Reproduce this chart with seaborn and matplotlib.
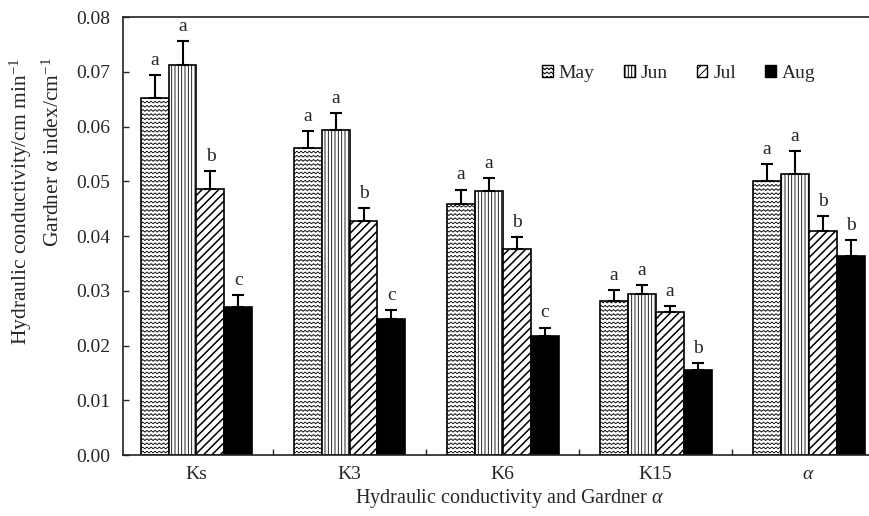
import warnings
import numpy as np
import pandas as pd
import seaborn as sns
import matplotlib
import matplotlib.pyplot as plt
from matplotlib import hatch as mhatch
from matplotlib.patches import Patch

warnings.filterwarnings("ignore")

# data
params = ["Ks", "K3", "K6", "K15", "alpha"]
tick_labels = ["Ks", "K3", "K6", "K15", r"$\alpha$"]
months = ["May", "Jun", "Jul", "Aug"]
may = [0.0653, 0.0560, 0.0459, 0.0281, 0.0501]
jun = [0.0712, 0.0593, 0.0483, 0.0295, 0.0514]
jul = [0.0486, 0.0428, 0.0377, 0.0261, 0.0409]
aug = [0.0270, 0.0248, 0.0218, 0.0156, 0.0364]
may_err = [0.0041, 0.0031, 0.0026, 0.0020, 0.0031]
jun_err = [0.0045, 0.0032, 0.0023, 0.0015, 0.0041]
jul_err = [0.0033, 0.0023, 0.0022, 0.0011, 0.0027]
aug_err = [0.0022, 0.0017, 0.0015, 0.0012, 0.0029]
may_sig = ["a", "a", "a", "a", "a"]
jun_sig = ["a", "a", "a", "a", "a"]
jul_sig = ["b", "b", "b", "a", "b"]
aug_sig = ["c", "c", "c", "b", "b"]


# wavy hatch ("~") - matplotlib has none, so add one
class WaveHatch(mhatch.HatchPatternBase):
    def __init__(self, hatch, density):
        self.num_lines = int(hatch.count("~") * density)
        self.pts = 6 * self.num_lines + 1
        self.num_vertices = self.num_lines * self.pts

    def set_vertices_and_codes(self, vertices, codes):
        n = self.num_lines
        x = np.linspace(0, 1, self.pts)
        wave = 0.22 / n * np.sin(2 * np.pi * n * x)
        for i in range(n):
            s = slice(i * self.pts, (i + 1) * self.pts)
            vertices[s, 0] = x
            vertices[s, 1] = (i + 0.5) / n + wave
            codes[s] = matplotlib.path.Path.LINETO
            codes[i * self.pts] = matplotlib.path.Path.MOVETO


mhatch._hatch_types.append(WaveHatch)

hatches = {"May": "~~~~", "Jun": "|||||", "Jul": "////", "Aug": None}
hatch_lw = {"May": 0.5, "Jun": 0.6, "Jul": 1.1, "Aug": 0.6}
faces = {"May": "white", "Jun": "white", "Jul": "white", "Aug": "black"}

df = pd.DataFrame({
    "param": params * 4,
    "month": np.repeat(months, len(params)),
    "value": may + jun + jul + aug,
    "err": may_err + jun_err + jul_err + aug_err,
    "sig": may_sig + jun_sig + jul_sig + aug_sig,
})

sns.set_style("ticks")
plt.rcParams["font.family"] = ["Liberation Serif", "DejaVu Serif"]
plt.rcParams["mathtext.fontset"] = "custom"
plt.rcParams["mathtext.rm"] = "Liberation Serif"
plt.rcParams["mathtext.it"] = "Liberation Serif:italic"
plt.rcParams["hatch.linewidth"] = 0.7


def style_hatch(p, month):
    p.set_facecolor(faces[month])
    if hatches[month]:
        p.set_hatch(hatches[month])
    if hasattr(p, "set_hatch_linewidth"):
        p.set_hatch_linewidth(hatch_lw[month])


fig = plt.figure(figsize=(8.7, 5.16), dpi=100)
ax = fig.add_axes([0.1414, 0.118, 0.8586, 0.849])

sns.barplot(
    data=df, x="param", y="value", hue="month", order=params,
    hue_order=months, palette=["white"] * 4, edgecolor="black",
    linewidth=1.2, width=0.73, errorbar=None, legend=False, ax=ax,
)

for month, cont in zip(months, ax.containers):
    sub = df[df["month"] == month].set_index("param").loc[params]
    for bar, (_, row) in zip(cont.patches, sub.iterrows()):
        style_hatch(bar, month)
        xc = bar.get_x() + bar.get_width() / 2
        top = row["value"] + row["err"]
        ax.errorbar(xc, row["value"], yerr=[[0], [row["err"]]], fmt="none",
                    ecolor="black", elinewidth=1.5, capsize=4, capthick=1.5,
                    zorder=1)
        ax.text(xc, top + 0.0011, row["sig"], ha="center", va="bottom",
                fontsize=14)

ax.set_ylim(0, 0.08)
ax.set_xlim(-0.48, 4.40)
ax.set_yticks(np.arange(0, 0.081, 0.01))
ax.yaxis.set_major_formatter(matplotlib.ticker.FormatStrFormatter("%.2f"))
ax.set_xticks(range(len(params)))
ax.set_xticklabels(tick_labels)
ax.set_xticks(np.arange(0.5, 4, 1), minor=True)
ax.tick_params(axis="x", which="major", length=0, pad=8, labelsize=14)
ax.tick_params(axis="x", which="minor", direction="in", length=4, width=1)
ax.tick_params(axis="y", direction="in", length=4, width=1, labelsize=14, pad=9)
ax.spines["right"].set_visible(False)
for s in ["left", "top", "bottom"]:
    ax.spines[s].set_linewidth(1.2)
    ax.spines[s].set_color("#222222")

ax.set_xlabel(r"Hydraulic conductivity and Gardner $\alpha$", fontsize=14.5)
ax.xaxis.set_label_coords(0.518, -0.072)
ax.set_ylabel("")
fig.text(36 / 870, 1 - 201 / 516,
         "Hydraulic conductivity/cm min$^{-1}$\nGardner α index/cm$^{-1}$",
         rotation=90, ha="center", va="center", multialignment="right",
         fontsize=15.5, linespacing=1.5)

handles = []
for m in months:
    h = Patch(edgecolor="black", label=m)
    style_hatch(h, m)
    handles.append(h)
ax.legend(handles=handles, ncol=4, frameon=False, fontsize=14,
          handlelength=0.55, handleheight=0.55, handletextpad=0.3,
          columnspacing=1.5, loc="center", bbox_to_anchor=(0.744, 0.872))

fig.savefig("out.png", dpi=100)
